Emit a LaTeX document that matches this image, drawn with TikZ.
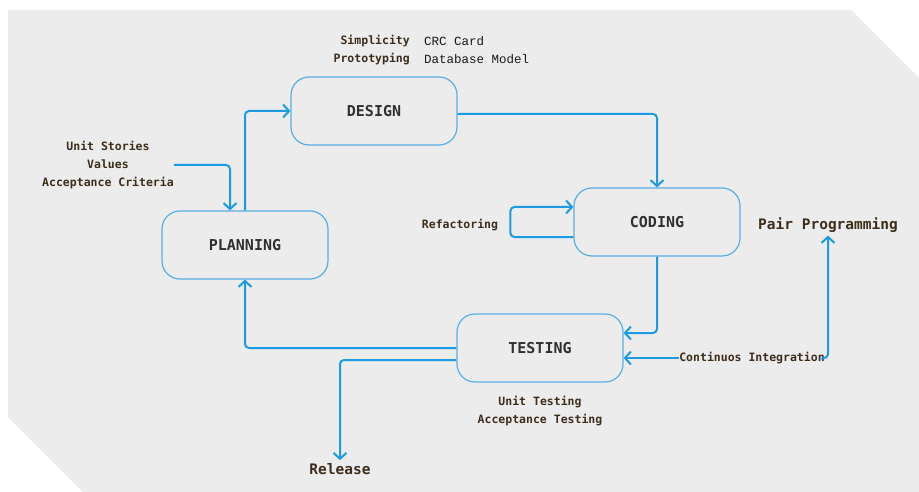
\documentclass[tikz,border=0pt]{standalone}
\usepackage{fontspec}
\newfontfamily\monofont{DejaVu Sans Mono}
\newfontfamily\cardfont{Liberation Mono}
\usetikzlibrary{arrows.meta}
\definecolor{bgcol}{HTML}{ECECEC}
\definecolor{flowblue}{HTML}{1C9BE0}
\definecolor{boxblue}{HTML}{58AFE3}
\definecolor{notebrown}{HTML}{3E2D1B}
\definecolor{phasegray}{HTML}{303030}
\tikzset{
  phase/.style={draw=boxblue, line width=1.2pt, rounded corners=18pt,
    minimum width=166pt, minimum height=68pt, text=phasegray,
    font=\monofont\bfseries\fontsize{15}{17}\selectfont},
  flow/.style={draw=flowblue, line width=2pt, rounded corners=4pt,
    -{Straight Barb[length=6pt,width=13pt]}},
  note/.style={text=notebrown, inner sep=0pt,
    font=\monofont\bfseries\fontsize{11.5}{18}\selectfont},
  bignote/.style={text=notebrown, inner sep=3pt,
    font=\monofont\bfseries\fontsize{14.5}{18}\selectfont}
}
\begin{document}
\begin{tikzpicture}[x=1pt,y=-1pt]
            \useasboundingbox (0,0) rectangle (919,492);
            \fill[bgcol] (8,10) -- (851,10) -- (919,78) -- (919,492) -- (83,492) -- (8,417) -- cycle;
            \node[phase] (design) at (374,111) {DESIGN};
            \node[phase] (plan) at (245,245) {PLANNING};
            \node[phase] (coding) at (657,222) {CODING};
            \node[phase] (testing) at (540,348) {TESTING};
            \node[note, anchor=east, align=right] (simp) at (410,50) {Simplicity\\Prototyping};
            \node[anchor=west, align=left, inner sep=0pt, text=black!90,
              font=\cardfont\fontsize{12.5}{18}\selectfont] (crc) at (424,50) {CRC Card\\Database Model};
            \node[note, align=center] (stories) at (108,165) {Unit Stories\\Values\\Acceptance Criteria};
            \node[note] (refac) at (460,225) {Refactoring};
            \node[note] (ci) at (752,358) {Continuos Integration};
            \node[note, align=center] (utest) at (540,411) {Unit Testing\\Acceptance Testing};
            \node[bignote] (pair) at (828,225) {Pair Programming};
            \node[bignote] (release) at (340,469) {Release};
            \draw[flow] (stories.east) -| ([xshift=-15pt]plan.north);
            \draw[flow] (plan.north) |- (design.west);
            \draw[flow] ([yshift=-3pt]design.east) -| (coding.north);
            \draw[flow] (coding.south) |- ([yshift=15pt]testing.east);
            \draw[flow] ([yshift=-15pt]coding.west) -- ++(-63,0) |- ([yshift=15pt]coding.west);
            \draw[flow] (ci.west) -- ([yshift=-10pt]testing.east);
            \draw[flow] (ci.east) -| (pair.south);
            \draw[flow] (testing.west) -| (plan.south);
            \draw[flow] ([yshift=-12pt]testing.west) -| (release.north);
        \end{tikzpicture}
\end{document}
